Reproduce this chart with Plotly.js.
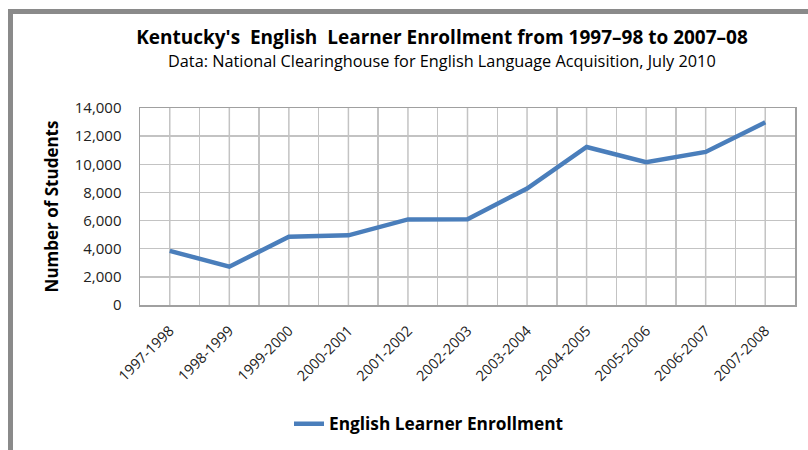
<!DOCTYPE html>
<html>
<head>
<meta charset="utf-8">
<script src="https://cdn.plot.ly/plotly-3.0.1.min.js"></script>
<style>
  html, body { margin: 0; padding: 0; background: #fff; }
  #wrap { position: relative; width: 808px; height: 450px; overflow: hidden; }
  #chart { position: absolute; left: 0; top: 0; width: 808px; height: 450px; }
  #bl { position: absolute; left: 8px; top: 9px; width: 5px; height: 441px; background: #8a8a8a; z-index: 10; }
  #bt { position: absolute; left: 8px; top: 9px; width: 800px; height: 5px; background: #8a8a8a; z-index: 10; }
</style>
</head>
<body>
<div id="wrap">
  <div id="chart"></div>
  <div id="bl"></div>
  <div id="bt"></div>
</div>
<script>
const categories = ["1997-1998","1998-1999","1999-2000","2000-2001","2001-2002","2002-2003","2003-2004","2004-2005","2005-2006","2006-2007","2007-2008"];
const enrollment = [3850, 2720, 4850, 4950, 6080, 6100, 8280, 11230, 10150, 10880, 12980];
const seriesName = "English Learner Enrollment";
const titleText = "Kentucky's  English  Learner Enrollment from 1997–98 to 2007–08";
const subtitleText = "Data: National Clearinghouse for English Language Acquisition, July 2010";
const yTitle = "Number of Students";

const FONT = "'Open Sans', Lato, sans-serif";
const GRID = "#c3c3c3";

const trace = {
  type: "scatter",
  mode: "lines",
  x: categories,
  y: enrollment,
  name: seriesName,
  line: { color: "#4a7ebb", width: 4.5 },
  showlegend: true
};

const shapes = categories.map(c => ({
  type: "line", xref: "x", yref: "paper",
  x0: c, x1: c, y0: 0, y1: 1,
  line: { color: GRID, width: 1.5 }, layer: "below"
}));

const layout = {
  width: 808, height: 450,
  margin: { l: 140, r: 13, t: 108, b: 145, pad: 0 },
  paper_bgcolor: "#ffffff",
  plot_bgcolor: "#ffffff",
  font: { family: FONT, color: "#000000" },
  title: {
    text: titleText,
    font: { family: FONT, size: 19, color: "#000", weight: "bold" },
    xref: "container", yref: "container",
    x: 442/808, xanchor: "center",
    y: 1 - 37/450, yanchor: "middle"
  },
  annotations: [{
    text: subtitleText,
    xref: "paper", yref: "paper",
    x: (442-140)/655, xanchor: "center",
    y: 1 + (108-61.5)/197, yanchor: "middle",
    showarrow: false,
    font: { family: FONT, size: 16.3, color: "#000" }
  }],
  xaxis: {
    type: "category",
    categoryorder: "array",
    categoryarray: categories,
    range: [-0.5, categories.length - 0.5],
    tickson: "boundaries",
    showgrid: true, gridcolor: GRID, gridwidth: 1.5,
    showline: true, linecolor: "#a0a0a0", linewidth: 1.5, mirror: true,
    ticks: "", tickangle: -45, ticklabelstandoff: 10,
    tickfont: { family: FONT, size: 14.5, color: "#222" },
    zeroline: false, fixedrange: true
  },
  yaxis: {
    range: [0, 14000], dtick: 2000, tick0: 0,
    tickformat: ",d",
    showgrid: true, gridcolor: GRID, gridwidth: 1.5,
    showline: true, linecolor: "#a0a0a0", linewidth: 1.5, mirror: true,
    zeroline: false,
    ticks: "", ticklabelstandoff: 14,
    tickfont: { family: FONT, size: 15, color: "#222" },
    title: { text: yTitle, font: { family: FONT, size: 17, weight: "bold", color: "#000" }, standoff: 12 },
    fixedrange: true
  },
  shapes: shapes,
  showlegend: true,
  legend: {
    orientation: "h",
    xref: "container", yref: "container",
    x: 429/808, xanchor: "center",
    y: 1 - 424/450, yanchor: "middle",
    font: { family: FONT, size: 17.3, weight: "bold", color: "#000" },
    bgcolor: "rgba(0,0,0,0)"
  }
};

Plotly.newPlot("chart", [trace], layout, { displayModeBar: false, staticPlot: true });
</script>
</body>
</html>
